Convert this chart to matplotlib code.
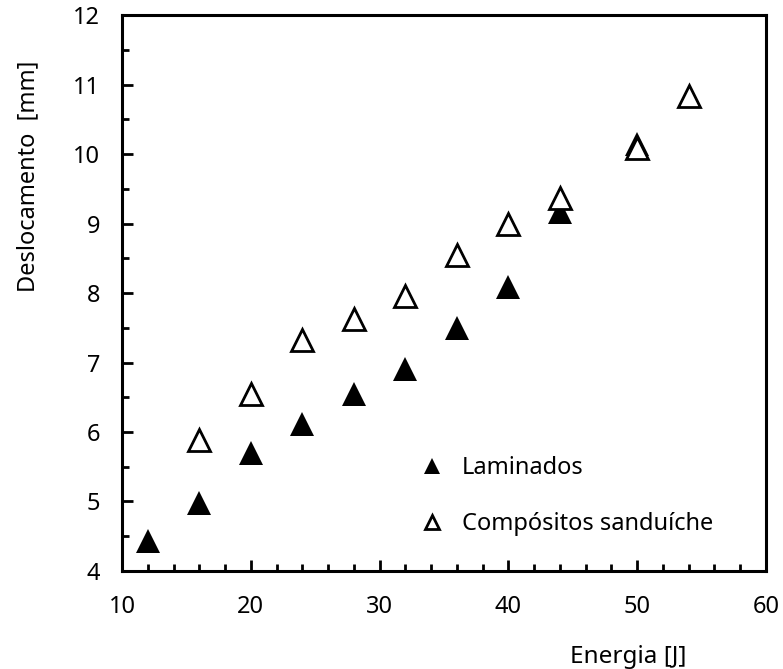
import matplotlib
matplotlib.use('Agg')
import matplotlib.pyplot as plt
from matplotlib.ticker import MultipleLocator

plt.rcParams['font.family'] = ['Noto Sans', 'DejaVu Sans']

# impact energy [J] vs. displacement [mm]
energia_lam = [12, 16, 20, 24, 28, 32, 36, 40, 44, 50]
desloc_lam = [4.43, 4.98, 5.70, 6.11, 6.55, 6.90, 7.49, 8.09, 9.17, 10.14]

energia_sand = [16, 20, 24, 28, 32, 36, 40, 44, 50, 54]
desloc_sand = [5.89, 6.55, 7.33, 7.62, 7.95, 8.54, 9.00, 9.37, 10.08, 10.84]

fig = plt.figure(figsize=(7.83, 6.69), dpi=100)
ax = fig.add_axes([0.156, 0.1465, 0.822, 0.831])

ax.plot(energia_lam, desloc_lam, '^', color='black', ms=17.5, mew=0,
        label='Laminados', zorder=3)
ax.plot(energia_sand, desloc_sand, '^', mfc='white', mec='black', ms=16,
        mew=2, label='Compósitos sanduíche', zorder=4)

ax.set_xlim(10, 60)
ax.set_ylim(4, 12)
ax.xaxis.set_major_locator(MultipleLocator(10))
ax.xaxis.set_minor_locator(MultipleLocator(2))
ax.yaxis.set_major_locator(MultipleLocator(1))
ax.yaxis.set_minor_locator(MultipleLocator(0.5))

ax.tick_params(which='both', direction='in', width=2, top=False, right=False,
               labelsize=17)
ax.tick_params(which='major', length=8)
ax.tick_params(which='minor', length=5)
ax.tick_params(axis='y', which='major', pad=16)
ax.tick_params(axis='x', which='major', pad=17)

for side in ['left', 'bottom', 'top', 'right']:
    ax.spines[side].set_linewidth(2.2)

ax.set_ylabel('Deslocamento  [mm]', fontsize=17)
ax.yaxis.set_label_coords(-0.146, 0.71)
ax.set_xlabel('Energia [J]', fontsize=17.5)
ax.xaxis.set_label_coords(0.787, -0.155)
ax.xaxis.label.set_verticalalignment('center')
ax.yaxis.label.set_verticalalignment('center')

ax.legend(loc='upper left', bbox_to_anchor=(0.463, 0.207), frameon=False,
          fontsize=17, markerscale=0.62, handletextpad=0.77, labelspacing=1.35,
          handlelength=1.0, borderpad=0, borderaxespad=0)

plt.savefig('out.png', dpi=100)
